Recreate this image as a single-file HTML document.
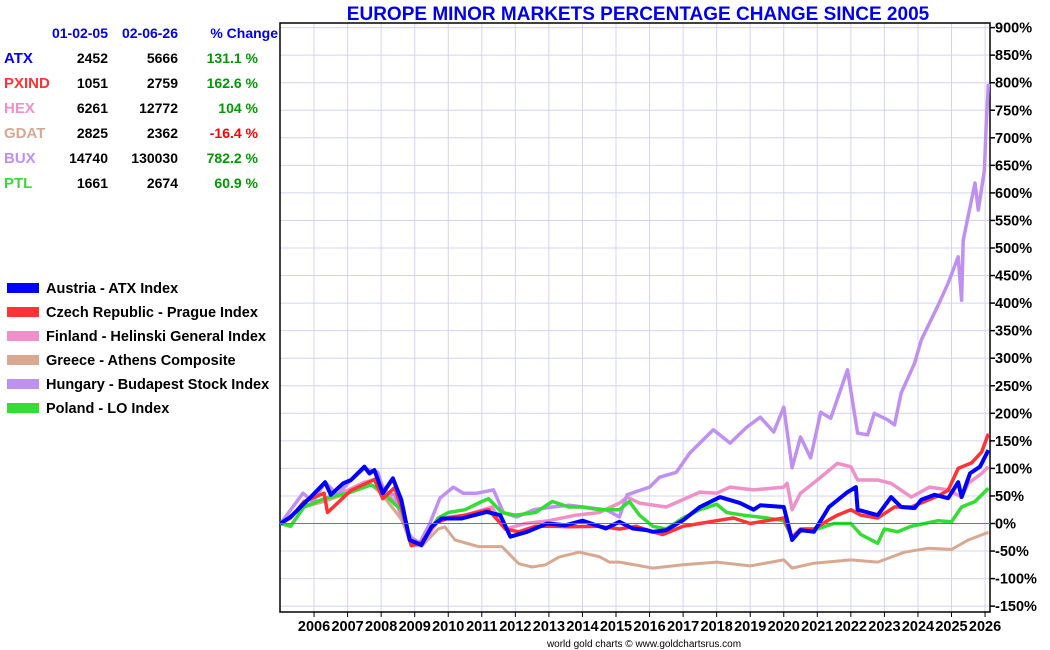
<!DOCTYPE html>
<html><head><meta charset="utf-8"><style>
body{margin:0;background:#fff;font-family:"Liberation Sans",Arial,sans-serif;}
#wrap{position:relative;width:1050px;height:650px;overflow:hidden;}
svg{position:absolute;left:0;top:0;}
</style></head><body>
<div id="wrap">
<svg id="chart" width="1050" height="650"></svg>
</div>
<script>
// ---- data ----
const yearTicks = [2006,2007,2008,2009,2010,2011,2012,2013,2014,2015,2016,2017,2018,2019,2020,2021,2022,2023,2024,2025,2026];
const pctTicks = [900,850,800,750,700,650,600,550,500,450,400,350,300,250,200,150,100,50,0,-50,-100,-150];
const tableCodes = ["ATX","PXIND","HEX","GDAT","BUX","PTL"];
const tableStart = ["2452","1051","6261","2825","14740","1661"];
const tableEnd = ["5666","2759","12772","2362","130030","2674"];
const tableChange = ["131.1 %","162.6 %","104 %","-16.4 %","782.2 %","60.9 %"];
const legendNames = ["Austria - ATX Index","Czech Republic - Prague Index","Finland - Helinski General Index","Greece - Athens Composite","Hungary - Budapest Stock Index","Poland - LO Index"];
const seriesColors = ["#0000ff","#ff3333","#f090c8","#d8a890","#c090f0","#33dd33"];

const gdatDates=[2005,2005.7,2006.3,2007,2007.7,2008,2008.55,2008.9,2009.2,2009.7,2009.9,2010.2,2010.9,2011.6,2012.1,2012.5,2012.9,2013.3,2013.9,2014.5,2014.8,2015.1,2016.1,2017,2018,2019,2020.0,2020.25,2020.9,2022.0,2022.8,2023.6,2024.3,2025.0,2025.5,2026.1];
const gdatVals=[0,30,40,55,70,55,12,-24,-42,-10,-6,-30,-42,-42,-73,-79,-75,-61,-52,-60,-70,-70,-81,-75,-70,-77,-66,-81,-72,-66,-70,-52,-45,-47,-30,-16];

const huDates=[2005,2005.67,2005.97,2006.33,2006.7,2007.1,2007.5,2007.9,2008.1,2008.4,2008.85,2009.15,2009.45,2009.75,2010.15,2010.45,2010.85,2011.35,2011.65,2012.05,2012.55,2013.1,2013.6,2014.7,2015.1,2015.33,2016.0,2016.3,2016.8,2017.2,2017.9,2018.4,2018.9,2019.3,2019.7,2020.0,2020.25,2020.5,2020.8,2021.1,2021.4,2021.9,2022.2,2022.5,2022.7,2023.1,2023.3,2023.5,2023.9,2024.1,2024.6,2024.9,2025.2,2025.3,2025.35,2025.7,2025.8,2025.98,2026.03,2026.1];
const huVals=[0,55,39,75,52,79,100,93,55,52,-24,-35,0,46,66,55,55,61,19,12,25,30,33,25,12,52,66,84,93,128,170,146,175,193,166,211,101,157,119,202,191,279,164,161,200,188,179,237,291,333,396,436,484,405,514,618,569,641,720,798];

const fiDates=[2005,2005.67,2006.3,2007,2007.5,2007.9,2008.5,2008.9,2009.2,2009.75,2010.5,2011.3,2011.7,2012.3,2013.0,2013.8,2014.5,2015.1,2015.33,2015.7,2016.5,2017.5,2018.0,2018.4,2019.1,2020.0,2020.1,2020.25,2020.5,2021.0,2021.6,2022.0,2022.2,2022.8,2023.2,2023.8,2024.35,2024.9,2025.3,2025.5,2025.9,2026.1];
const fiVals=[0,30,45,60,75,80,30,-40,-40,10,15,30,-10,0,5,15,20,37,48,37,30,57,55,66,61,66,73,25,55,79,109,103,79,79,73,48,66,61,48,73,91,103];

const czDates=[2005,2005.3,2005.7,2006.3,2006.4,2007.1,2007.8,2008.05,2008.4,2008.6,2008.9,2009.2,2009.6,2010,2010.5,2011.2,2011.7,2012.1,2012.6,2013.1,2013.6,2014.5,2015.1,2015.6,2016.1,2016.4,2017.0,2017.5,2018,2018.5,2019,2019.5,2020.0,2020.25,2020.5,2020.9,2021.3,2021.6,2022.0,2022.3,2022.8,2023.3,2023.8,2024.2,2024.6,2024.9,2025.2,2025.6,2025.9,2026.1];
const czVals=[0,10,40,55,20,60,80,45,65,30,-40,-35,0,10,15,25,-10,-15,-5,-5,-6,-5,-10,-5,-15,-20,-5,0,5,10,0,5,10,-25,-10,-10,5,15,25,15,10,30,30,40,50,60,100,110,130,163];

const plDates=[2005,2005.3,2005.7,2006.3,2007,2007.7,2008.0,2008.4,2008.6,2008.9,2009.2,2009.7,2010,2010.5,2011.0,2011.2,2011.6,2012,2012.6,2013.1,2013.6,2014.0,2014.5,2015.1,2015.4,2015.7,2016.1,2016.5,2017.0,2017.5,2018.0,2018.3,2018.8,2019.5,2020.0,2020.25,2020.6,2021.0,2021.5,2022.0,2022.3,2022.8,2023.0,2023.4,2023.8,2024.2,2024.6,2025.0,2025.3,2025.7,2026.1];
const plVals=[0,-5,30,45,55,70,60,35,25,-40,-35,10,20,25,40,45,20,15,20,40,30,30,25,25,40,15,-5,-10,10,25,35,20,15,10,5,-25,-10,-10,0,0,-20,-36,-10,-15,-5,0,5,3,30,40,64];

const atDates=[2005,2005.3,2005.97,2006.33,2006.5,2006.87,2007.1,2007.5,2007.65,2007.8,2008.05,2008.35,2008.6,2008.85,2009.2,2009.5,2009.8,2010.4,2011.15,2011.55,2011.85,2012.35,2012.95,2013.5,2014.0,2014.7,2015.1,2015.5,2015.9,2016.1,2016.5,2017.0,2017.5,2018.1,2018.7,2019.1,2019.3,2020.0,2020.25,2020.5,2020.9,2021.35,2021.9,2022.15,2022.2,2022.8,2023.2,2023.5,2023.9,2024.1,2024.5,2024.9,2025.2,2025.3,2025.55,2025.85,2026.1];
const atVals=[0,12,52,75,52,73,79,103,91,97,55,82,43,-30,-39,-6,9,9,21,15,-24,-15,0,-3,5,-9,3,-9,-12,-15,-12,6,30,48,37,25,33,30,-30,-12,-15,30,57,66,25,15,48,30,28,43,52,46,75,48,91,103,133];

const seriesDates=[atDates,czDates,fiDates,gdatDates,huDates,plDates];
const seriesVals=[atVals,czVals,fiVals,gdatVals,huVals,plVals];
const drawOrder=[3,2,4,5,1,0];
const strokeW=[4,3.5,3.5,3,3.5,3.5];

// ---- axes ----
const X0=280.5, PXY=33.55, Y0=523.5, PXP=0.551;
const PL=280, PR=990, PT=23, PB=612;
function xs(yr){return X0+(yr-2005)*PXY;}
function ys(p){return Y0-p*PXP;}

const svg=document.getElementById('chart');
const NS='http://www.w3.org/2000/svg';
function mk(tag,attrs,parent){const e=document.createElementNS(NS,tag);for(const k in attrs)e.setAttribute(k,attrs[k]);(parent||svg).appendChild(e);return e;}

// grid
const grid=mk('g',{});


pctTicks.forEach(p=>{mk('line',{x1:PL,x2:PR,y1:ys(p),y2:ys(p),stroke:'#d4d4f2','stroke-width':1},grid);});
yearTicks.forEach(y=>{mk('line',{x1:xs(y),x2:xs(y),y1:PT,y2:PB,stroke:'#d4d4f2','stroke-width':1},grid);});

// frame
const frame=mk('rect',{x:PL,y:PT,width:PR-PL,height:PB-PT,fill:'none',stroke:'#000','stroke-width':1.5});



// y labels
const yax=mk('g',{});


pctTicks.forEach(p=>{
  mk('line',{x1:PR,x2:PR+5,y1:ys(p),y2:ys(p),stroke:'#000','stroke-width':1.5},yax);
  const t=mk('text',{x:PR+5,y:ys(p)+5,'font-size':14.5,'font-weight':'bold',fill:'#000'},yax);
  t.textContent=p+'%';
  
  
});
// x labels
const xax=mk('g',{});


yearTicks.forEach(y=>{
  mk('line',{x1:xs(y),x2:xs(y),y1:PB,y2:PB+5,stroke:'#000','stroke-width':1},xax);
  const t=mk('text',{x:xs(y),y:631,'font-size':14.5,'font-weight':'bold','text-anchor':'middle',fill:'#000'},xax);
  t.textContent=String(y);
  
  
});

// series
drawOrder.forEach(i=>{
  const d=seriesDates[i].map((yr,k)=>(k?'L':'M')+xs(yr).toFixed(1)+' '+ys(seriesVals[i][k]).toFixed(1)).join(' ');
  const p=mk('path',{d:d,fill:'none',stroke:seriesColors[i],'stroke-width':strokeW[i],'stroke-linejoin':'round'});
  
  
});
// zero line
const zl=mk('line',{x1:PL,x2:PR,y1:ys(0),y2:ys(0),stroke:'#dd33cc','stroke-width':1});



// title
const title=mk('text',{x:638,y:20,'font-size':19,'font-weight':'bold','text-anchor':'middle',fill:'#0000ee'});
title.textContent='EUROPE MINOR MARKETS PERCENTAGE CHANGE SINCE 2005';



// table
const tbl=mk('g',{});


[['01-02-05',108],['02-06-26',178],['% Change',278]].forEach(h=>{
  const t=mk('text',{x:h[1],y:38,'font-size':14,'font-weight':'bold','text-anchor':'end',fill:'#0000ee'},tbl);
  t.textContent=h[0];
  
  
});
tableCodes.forEach((c,i)=>{
  const y=63+i*25;
  const a=mk('text',{x:4,y:y,'font-size':15,'font-weight':'bold',fill:seriesColors[i]},tbl);a.textContent=c;
  
  
  const b=mk('text',{x:108,y:y,'font-size':14,'font-weight':'bold','text-anchor':'end',fill:'#000'},tbl);b.textContent=tableStart[i];
  
  
  const e=mk('text',{x:178,y:y,'font-size':14,'font-weight':'bold','text-anchor':'end',fill:'#000'},tbl);e.textContent=tableEnd[i];
  
  
  const f=mk('text',{x:258,y:y,'font-size':14,'font-weight':'bold','text-anchor':'end',fill:tableChange[i].startsWith('-')?'#ff0000':'#009900'},tbl);f.textContent=tableChange[i];
  
  
});

// legend
const lg=mk('g',{});


legendNames.forEach((n,i)=>{
  const y=288+i*24;
  const r=mk('rect',{x:7,y:y-5,width:32,height:10,fill:seriesColors[i]},lg);
  
  
  const t=mk('text',{x:46,y:y+5,'font-size':14.5,'font-weight':'bold',fill:'#000'},lg);
  t.textContent=n;
  
  
});

// footer
const ft=mk('text',{x:644,y:647,'font-size':10,'text-anchor':'middle',fill:'#000'});
ft.textContent='world gold charts © www.goldchartsrus.com';


</script>
</body></html>
